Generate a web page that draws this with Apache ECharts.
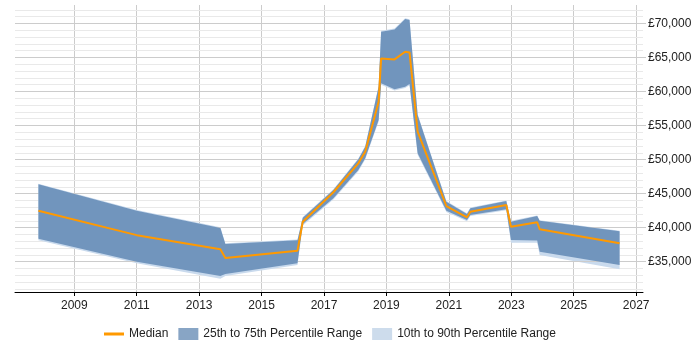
<!DOCTYPE html>
<html>
<head>
<meta charset="utf-8">
<script src="https://cdn.jsdelivr.net/npm/echarts@6/dist/echarts.min.js"></script>
<style>
  html, body { margin: 0; padding: 0; background: #fff; }
  #chart { width: 700px; height: 350px; }
</style>
</head>
<body>
<div id="chart"></div>
<script>
// sample points (decimal years) and salary percentiles
let years = [2007.85, 2011.0, 2013.68, 2013.84, 2016.15, 2016.32, 2017.3, 2018.1, 2018.32, 2018.75,
  2018.83, 2019.26, 2019.6, 2019.74, 2020.0, 2020.92, 2021.58, 2021.69, 2022.84, 2022.99,
  2023.83, 2023.91, 2026.47];
let p10 = [38150, 34770, 32500, 32900, 34520, 40300, 44150, 48300, 50000, 55600,
  61000, 60150, 60500, 60900, 50700, 42300, 40950, 41700, 42550, 37800,
  37800, 35990, 33900];
let p25 = [38380, 35000, 32900, 33200, 34770, 40540, 44310, 48460, 50180, 55800,
  61190, 60310, 60700, 61090, 50920, 42490, 41120, 41860, 42700, 38200,
  38100, 36470, 34520];
let median = [42490, 38900, 36820, 35550, 36620, 40880, 45200, 49450, 51150, 58490,
  64860, 64710, 65830, 65740, 54090, 43180, 41520, 42340, 43330, 40140,
  40790, 39760, 37700];
let p75 = [46365, 42500, 39950, 37600, 38150, 41450, 45530, 50040, 51890, 60690,
  68770, 69120, 70630, 70480, 56540, 43810, 42000, 42840, 43910, 40880,
  41710, 41020, 39470];
let p90 = [46450, 42600, 40050, 37700, 38250, 41550, 45650, 50150, 52000, 60800,
  68900, 69250, 70750, 70600, 56650, 43900, 42100, 42950, 44000, 41000,
  41800, 41100, 39550];

let yearTicks = [2009, 2011, 2013, 2015, 2017, 2019, 2021, 2023, 2025, 2027];
let salaryTicks = [35000, 40000, 45000, 50000, 55000, 60000, 65000, 70000];

// light grid every £1,000
let minorTicks = [];
for (let v = 31000; v <= 72000; v += 1000) minorTicks.push(v);

const Y_MIN = 30550, Y_MAX = 72700;
const DARK = '#7195bd';
const LIGHT = '#c9daed';

function bandRender(lo, hi, color) {
  return function (params, api) {
    if (params.dataIndex !== 0) return;
    let pts = [];
    for (let i = 0; i < years.length; i++) pts.push(api.coord([years[i], hi[i]]));
    for (let j = years.length - 1; j >= 0; j--) pts.push(api.coord([years[j], lo[j]]));
    return {
      type: 'polygon',
      shape: { points: pts },
      style: { fill: color }
    };
  };
}

function bandData(lo, hi) {
  return years.map(function (y, i) { return [y, lo[i], hi[i]]; });
}

let chart = echarts.init(document.getElementById('chart'));
chart.setOption({
  animation: false,
  textStyle: { fontFamily: 'Liberation Sans, Arial, sans-serif' },
  grid: { left: 15, right: 57, top: 5, bottom: 58 },
  xAxis: {
    type: 'value',
    min: 2007.1,
    max: 2027.22,
    axisLine: { lineStyle: { color: '#000', width: 1 } },
    axisTick: { customValues: yearTicks, length: 4, lineStyle: { color: '#000' } },
    axisLabel: {
      customValues: yearTicks,
      color: '#222',
      fontSize: 12,
      margin: 8,
      formatter: function (v) { return String(v); }
    },
    splitLine: { show: true, lineStyle: { color: '#cccccc', width: 1 } }
  },
  yAxis: [
    {
      type: 'value',
      position: 'right',
      min: Y_MIN,
      max: Y_MAX,
      axisLine: { show: false },
      axisTick: { show: true, customValues: salaryTicks, length: 3, lineStyle: { color: '#cccccc' } },
      axisLabel: {
        customValues: salaryTicks,
        color: '#222',
        fontSize: 12,
        margin: 5,
        formatter: function (v) { return '£' + v.toLocaleString('en-GB'); }
      },
      splitLine: { show: true, lineStyle: { color: '#cccccc', width: 1 } },
      z: 3
    },
    {
      type: 'value',
      position: 'right',
      min: Y_MIN,
      max: Y_MAX,
      axisLine: { show: false },
      axisTick: { show: false, customValues: minorTicks },
      axisLabel: { show: false, customValues: minorTicks },
      splitLine: { show: true, lineStyle: { color: '#e9e9e9', width: 1 } },
      z: 1
    }
  ],
  legend: {
    left: 99,
    top: 323,
    itemWidth: 20,
    itemHeight: 12,
    itemGap: 10,
    textStyle: { color: '#222', fontSize: 12 },
    data: [
      { name: 'Median', icon: 'path://M0,0L20,0L20,3L0,3Z', itemStyle: { color: '#ff9900' } },
      { name: '25th to 75th Percentile Range', icon: 'rect', itemStyle: { color: '#88a5c5' } },
      { name: '10th to 90th Percentile Range', icon: 'rect', itemStyle: { color: '#cddcec' } }
    ]
  },
  series: [
    {
      name: '10th to 90th Percentile Range',
      type: 'custom',
      renderItem: bandRender(p10, p90, LIGHT),
      encode: { x: 0, y: [1, 2] },
      itemStyle: { color: LIGHT },
      data: bandData(p10, p90),
      z: 2
    },
    {
      name: '25th to 75th Percentile Range',
      type: 'custom',
      renderItem: bandRender(p25, p75, DARK),
      encode: { x: 0, y: [1, 2] },
      itemStyle: { color: DARK },
      data: bandData(p25, p75),
      z: 3
    },
    {
      name: 'Median',
      type: 'line',
      symbol: 'none',
      data: years.map(function (y, i) { return [y, median[i]]; }),
      lineStyle: { color: '#ff9900', width: 2 },
      itemStyle: { color: '#ff9900' },
      z: 4
    }
  ]
});
</script>
</body>
</html>
